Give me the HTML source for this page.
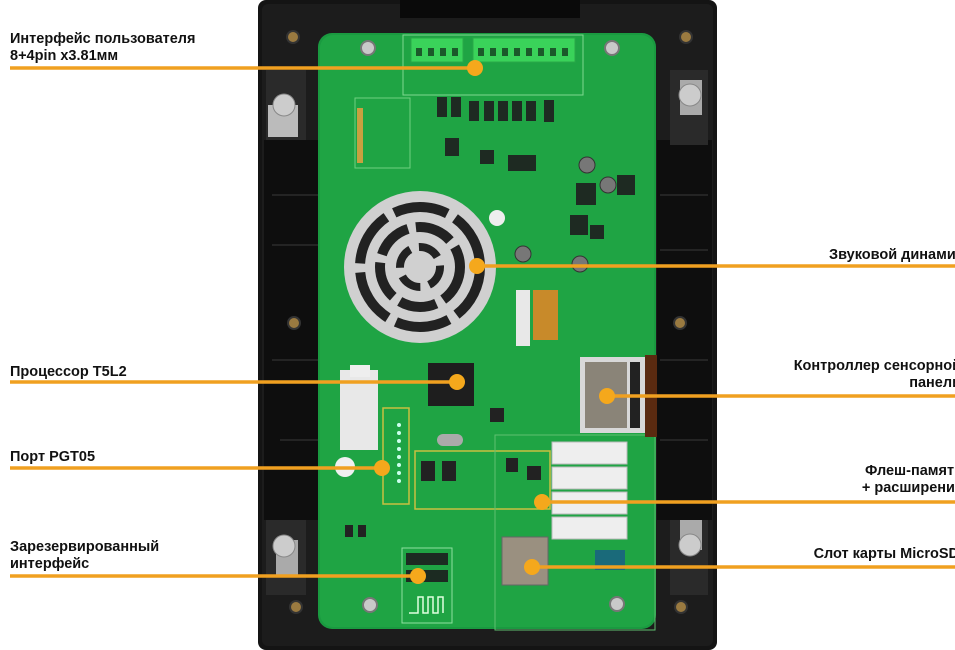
<!DOCTYPE html>
<html><head><meta charset="utf-8"><style>
html,body{margin:0;padding:0;background:#fff;}
body{width:955px;height:650px;overflow:hidden;position:relative;font-family:"Liberation Sans","DejaVu Sans",sans-serif;}
.t{position:absolute;font-weight:bold;font-size:14.5px;line-height:17px;color:#111;white-space:nowrap;}
.r{text-align:right;}
svg{position:absolute;left:0;top:0;}
</style></head><body>
<svg width="955" height="650" viewBox="0 0 955 650">
<rect x="258" y="0" width="459" height="650" rx="8" fill="#141414"/>
<rect x="262" y="4" width="451" height="642" rx="6" fill="#1c1c1c"/>
<rect x="400" y="0" width="180" height="18" fill="#0a0a0a"/>
<rect x="264" y="140" width="55" height="380" fill="#0e0e0e"/>
<rect x="657" y="140" width="55" height="380" fill="#0e0e0e"/>
<g stroke="#2c2c2c" stroke-width="1.5">
<line x1="272" y1="195" x2="318" y2="195"/><line x1="272" y1="245" x2="318" y2="245"/><line x1="272" y1="360" x2="318" y2="360"/><line x1="280" y1="440" x2="318" y2="440"/>
<line x1="660" y1="195" x2="708" y2="195"/><line x1="660" y1="250" x2="708" y2="250"/><line x1="660" y1="360" x2="708" y2="360"/><line x1="660" y1="440" x2="708" y2="440"/>
</g>
<rect x="266" y="70" width="40" height="70" fill="#2a2a2a"/>
<rect x="268" y="105" width="30" height="32" fill="#bbb"/>
<circle cx="284" cy="105" r="11" fill="#ccc" stroke="#888"/>
<rect x="266" y="520" width="40" height="75" fill="#2a2a2a"/>
<rect x="276" y="540" width="22" height="35" fill="#aaa"/>
<circle cx="284" cy="546" r="11" fill="#ccc" stroke="#888"/>
<rect x="670" y="70" width="38" height="75" fill="#2a2a2a"/>
<rect x="680" y="80" width="22" height="35" fill="#aaa"/>
<circle cx="690" cy="95" r="11" fill="#ccc" stroke="#888"/>
<rect x="670" y="520" width="38" height="75" fill="#2a2a2a"/>
<rect x="680" y="520" width="22" height="30" fill="#aaa"/>
<circle cx="690" cy="545" r="11" fill="#ccc" stroke="#888"/>
<g fill="#9a7a40" stroke="#333" stroke-width="2">
<circle cx="293" cy="37" r="6"/><circle cx="686" cy="37" r="6"/><circle cx="294" cy="323" r="6"/><circle cx="680" cy="323" r="6"/><circle cx="296" cy="607" r="6"/><circle cx="681" cy="607" r="6"/>
</g>
<rect x="318" y="33" width="338" height="596" rx="14" fill="#1a9a40"/>
<rect x="320" y="35" width="334" height="592" rx="13" fill="#1fa444"/>
<g fill="#c9c9c9" stroke="#777" stroke-width="2">
<circle cx="368" cy="48" r="7"/><circle cx="612" cy="48" r="7"/><circle cx="370" cy="605" r="7"/><circle cx="617" cy="604" r="7"/>
</g>
<rect x="403" y="35" width="180" height="60" fill="none" stroke="#7fd88f" stroke-width="1"/>
<rect x="411" y="38" width="52" height="24" fill="#3ad35a" stroke="#2aa848"/>
<rect x="473" y="38" width="102" height="24" fill="#3ad35a" stroke="#2aa848"/>
<g fill="#1b5a2a">
<rect x="416" y="48" width="6" height="8"/><rect x="428" y="48" width="6" height="8"/><rect x="440" y="48" width="6" height="8"/><rect x="452" y="48" width="6" height="8"/>
<rect x="478" y="48" width="6" height="8"/><rect x="490" y="48" width="6" height="8"/><rect x="502" y="48" width="6" height="8"/><rect x="514" y="48" width="6" height="8"/><rect x="526" y="48" width="6" height="8"/><rect x="538" y="48" width="6" height="8"/><rect x="550" y="48" width="6" height="8"/><rect x="562" y="48" width="6" height="8"/>
</g>
<g fill="#1e2a22">
<rect x="437" y="97" width="10" height="20"/><rect x="451" y="97" width="10" height="20"/><rect x="469" y="101" width="10" height="20"/><rect x="484" y="101" width="10" height="20"/><rect x="498" y="101" width="10" height="20"/><rect x="512" y="101" width="10" height="20"/><rect x="526" y="101" width="10" height="20"/><rect x="544" y="100" width="10" height="22"/>
<rect x="445" y="138" width="14" height="18"/><rect x="480" y="150" width="14" height="14"/><rect x="508" y="155" width="28" height="16"/>
<rect x="576" y="183" width="20" height="22"/><rect x="570" y="215" width="18" height="20"/><rect x="590" y="225" width="14" height="14"/>
<rect x="617" y="175" width="18" height="20"/>
</g>
<rect x="355" y="98" width="55" height="70" fill="none" stroke="#6fd080" stroke-width="1"/>
<g fill="#c8a040"><rect x="357" y="108" width="6" height="55"/></g>
<g fill="#777" stroke="#333"><circle cx="587" cy="165" r="8"/><circle cx="608" cy="185" r="8"/><circle cx="523" cy="254" r="8"/><circle cx="580" cy="264" r="8"/></g>
<circle cx="420" cy="267" r="76" fill="#d0d0d0"/>
<g fill="none" stroke="#222" stroke-width="10">
<circle cx="420" cy="267" r="60" stroke-dasharray="55 9"/>
<circle cx="420" cy="267" r="40" stroke-dasharray="38 8"/>
<circle cx="420" cy="267" r="20" stroke-width="8" stroke-dasharray="22 9"/>
</g>
<circle cx="497" cy="218" r="8" fill="#eee"/>
<rect x="516" y="290" width="14" height="56" fill="#e8e8e8"/>
<rect x="533" y="290" width="25" height="50" fill="#c88a2a"/>
<rect x="428" y="363" width="46" height="43" fill="#1e1e1e"/>
<rect x="340" y="370" width="38" height="80" fill="#e8e8e8"/>
<rect x="350" y="365" width="20" height="12" fill="#eee"/>
<circle cx="345" cy="467" r="10" fill="#f0f0f0"/>
<rect x="383" y="408" width="26" height="96" fill="none" stroke="#c8c040" stroke-width="1.5"/>
<g fill="#cfe"><circle cx="399" cy="425" r="2"/><circle cx="399" cy="433" r="2"/><circle cx="399" cy="441" r="2"/><circle cx="399" cy="449" r="2"/><circle cx="399" cy="457" r="2"/><circle cx="399" cy="465" r="2"/><circle cx="399" cy="473" r="2"/><circle cx="399" cy="481" r="2"/></g>
<rect x="437" y="434" width="26" height="12" rx="6" fill="#aaa"/>
<rect x="490" y="408" width="14" height="14" fill="#222"/>
<rect x="415" y="451" width="135" height="58" fill="none" stroke="#c8c040" stroke-width="1.5"/>
<rect x="495" y="435" width="160" height="195" fill="none" stroke="#5fc070" stroke-width="1"/>
<g fill="#222"><rect x="421" y="461" width="14" height="20"/><rect x="442" y="461" width="14" height="20"/><rect x="506" y="458" width="12" height="14"/><rect x="527" y="466" width="14" height="14"/></g>
<rect x="580" y="357" width="68" height="76" fill="#d8d8d8"/>
<rect x="585" y="362" width="42" height="66" fill="#8a8478"/>
<rect x="630" y="362" width="10" height="66" fill="#222"/>
<rect x="645" y="355" width="12" height="82" fill="#5a2a10"/>
<g fill="#eeeeee" stroke="#bbb"><rect x="552" y="442" width="75" height="22"/><rect x="552" y="467" width="75" height="22"/><rect x="552" y="492" width="75" height="22"/><rect x="552" y="517" width="75" height="22"/></g>
<rect x="502" y="537" width="46" height="48" fill="#9a9080" stroke="#666"/>
<rect x="595" y="550" width="30" height="20" fill="#1a6a7a"/>
<rect x="402" y="548" width="50" height="75" fill="none" stroke="#8fe0a0" stroke-width="1"/>
<g fill="#1c2b22"><rect x="406" y="553" width="42" height="12"/><rect x="406" y="570" width="42" height="12"/></g>
<path d="M409 613 H418 V597 H423 V613 H428 V597 H433 V613 H438 V597 H443 V613" fill="none" stroke="#e0ffe0" stroke-width="1.5"/>
<g fill="#222"><rect x="345" y="525" width="8" height="12"/><rect x="358" y="525" width="8" height="12"/></g>
<g stroke="#f0a020" stroke-width="3.5">
<line x1="10" y1="68" x2="475" y2="68"/>
<line x1="477" y1="266" x2="955" y2="266"/>
<line x1="10" y1="382" x2="457" y2="382"/>
<line x1="607" y1="396" x2="955" y2="396"/>
<line x1="10" y1="468" x2="382" y2="468"/>
<line x1="542" y1="502" x2="955" y2="502"/>
<line x1="10" y1="576" x2="418" y2="576"/>
<line x1="532" y1="567" x2="955" y2="567"/>
</g>
<g fill="#f5a81c">
<circle cx="475" cy="68" r="8"/><circle cx="477" cy="266" r="8"/><circle cx="457" cy="382" r="8"/><circle cx="607" cy="396" r="8"/>
<circle cx="382" cy="468" r="8"/><circle cx="542" cy="502" r="8"/><circle cx="418" cy="576" r="8"/><circle cx="532" cy="567" r="8"/>
</g>
</svg>
<div class="t" style="left:10px;top:31px;">Интерфейс пользователя<br>8+4pin x3.81мм</div>
<div class="t" style="left:10px;top:364px;">Процессор T5L2</div>
<div class="t" style="left:10px;top:449px;">Порт PGT05</div>
<div class="t" style="left:10px;top:539px;">Зарезервированный<br>интерфейс</div>
<div class="t r" style="right:-8px;top:247px;">Звуковой динамик</div>
<div class="t r" style="right:-6px;top:358px;">Контроллер сенсорной<br>панели</div>
<div class="t r" style="right:-8px;top:463px;">Флеш-память<br>+ расширение</div>
<div class="t r" style="right:-4px;top:546px;">Слот карты MicroSD</div>
</body></html>
